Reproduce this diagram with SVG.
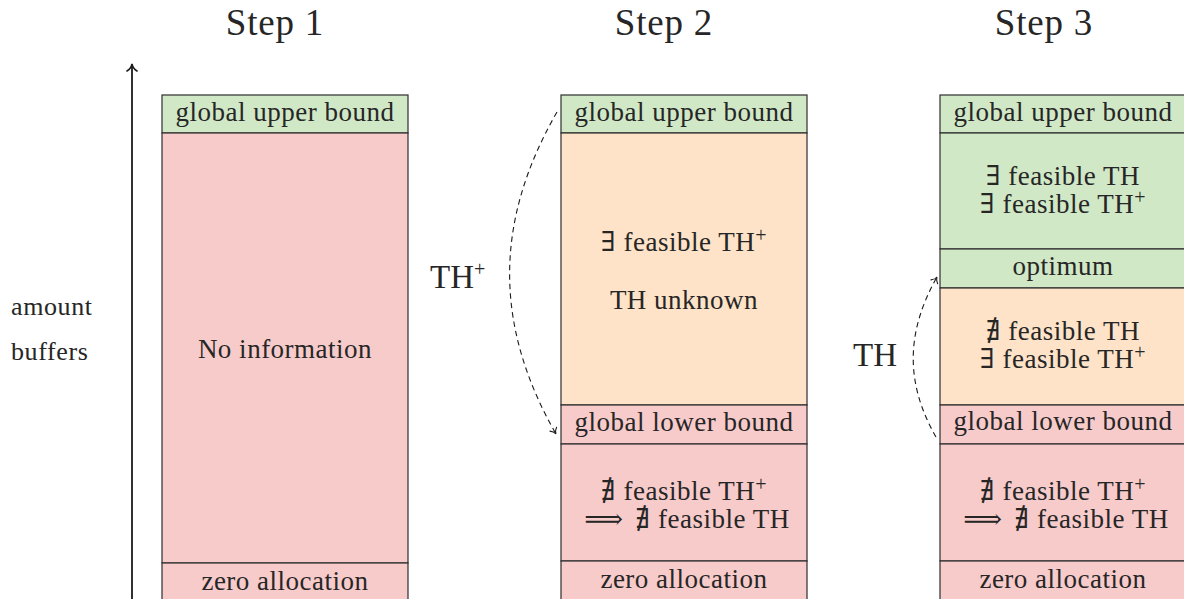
<svg xmlns="http://www.w3.org/2000/svg" width="1184" height="599" viewBox="0 0 1184 599">
  <style>
    text { font-family: "Liberation Serif", "DejaVu Serif", serif; fill: #262626; }
    .lbl { font-size: 27px; letter-spacing: 0.5px; text-anchor: middle; }
    .title { font-size: 37px; letter-spacing: 0.8px; text-anchor: middle; }
    .axis-lbl { font-size: 26px; letter-spacing: 0.6px; }
    .edge-lbl { font-size: 33px; }
    .sup { font-size: 20px; }
    .cell { stroke: #2e2e2e; stroke-width: 1.2; }
    .green { fill: #d1e8c7; }
    .orange { fill: #fee3c8; }
    .pink { fill: #f8cbcb; }
    .dash { fill: none; stroke: #1a1a1a; stroke-width: 1.1; stroke-dasharray: 5.5 4; }
  </style>
  <defs>
    <marker id="to" markerUnits="userSpaceOnUse" markerWidth="14" markerHeight="14" refX="0" refY="0" viewBox="-7 -7 14 14" orient="auto" overflow="visible">
      <path d="M-5.5,-3.8 C-3.8,-1.3 -1.6,-0.3 0,0 C-1.6,0.3 -3.8,1.3 -5.5,3.8" fill="none" stroke="#1a1a1a" stroke-width="1.1" stroke-dasharray="none" stroke-linecap="round"/>
    </marker>
    <marker id="axis-to" markerUnits="userSpaceOnUse" markerWidth="16" markerHeight="16" refX="0" refY="0" viewBox="-8 -8 16 16" orient="auto" overflow="visible">
      <path d="M-7,-5 C-5,-1.8 -2.2,-0.4 0,0 C-2.2,0.4 -5,1.8 -7,5" fill="none" stroke="#1a1a1a" stroke-width="1.6" stroke-linecap="round"/>
    </marker>
  </defs>

  <!-- column titles -->
  <g id="titles">
    <text class="title" x="275" y="35">Step 1</text>
    <text class="title" x="664" y="35">Step 2</text>
    <text class="title" x="1044" y="35">Step 3</text>
  </g>

  <!-- vertical axis -->
  <g id="axis">
    <line x1="132" y1="605" x2="132" y2="64" stroke="#1a1a1a" stroke-width="1.8" marker-end="url(#axis-to)"/>
    <text class="axis-lbl" x="11" y="315">amount</text>
    <text class="axis-lbl" x="11" y="360">buffers</text>
  </g>

  <!-- Step 1 column -->
  <g id="step1">
    <g id="s1-upper">
      <rect class="cell green" x="162" y="95" width="246" height="38"/>
      <text class="lbl" x="285" y="121">global upper bound</text>
    </g>
    <g id="s1-noinfo">
      <rect class="cell pink" x="162" y="133" width="246" height="430"/>
      <text class="lbl" x="285" y="358">No information</text>
    </g>
    <g id="s1-zero">
      <rect class="cell pink" x="162" y="563" width="246" height="50"/>
      <text class="lbl" x="285" y="590">zero allocation</text>
    </g>
  </g>

  <!-- Step 2 column -->
  <g id="step2">
    <g id="s2-upper">
      <rect class="cell green" x="561" y="95" width="246" height="38"/>
      <text class="lbl" x="684" y="121">global upper bound</text>
    </g>
    <g id="s2-unknown">
      <rect class="cell orange" x="561" y="133" width="246" height="272"/>
      <text class="lbl" x="684" y="251">∃ feasible TH<tspan class="sup" dy="-9">+</tspan></text>
      <text class="lbl" x="684" y="309">TH unknown</text>
    </g>
    <g id="s2-lower">
      <rect class="cell pink" x="561" y="405" width="246" height="39"/>
      <text class="lbl" x="684" y="431">global lower bound</text>
    </g>
    <g id="s2-infeasible">
      <rect class="cell pink" x="561" y="444" width="246" height="117"/>
      <text class="lbl" x="684" y="500">∄ feasible TH<tspan class="sup" dy="-9">+</tspan><tspan x="687" dy="37">⟹</tspan><tspan dx="12">∄ feasible TH</tspan></text>
    </g>
    <g id="s2-zero">
      <rect class="cell pink" x="561" y="561" width="246" height="50"/>
      <text class="lbl" x="684" y="588">zero allocation</text>
    </g>
  </g>

  <!-- Step 3 column -->
  <g id="step3">
    <g id="s3-upper">
      <rect class="cell green" x="940" y="95" width="247" height="38"/>
      <text class="lbl" x="1063" y="121">global upper bound</text>
    </g>
    <g id="s3-feasible">
      <rect class="cell green" x="940" y="133" width="247" height="116"/>
      <text class="lbl" x="1063" y="185">∃ feasible TH<tspan x="1063" dy="28">∃ feasible TH</tspan><tspan class="sup" dy="-9">+</tspan></text>
    </g>
    <g id="s3-optimum">
      <rect class="cell green" x="940" y="249" width="247" height="39"/>
      <text class="lbl" x="1063" y="275">optimum</text>
    </g>
    <g id="s3-between">
      <rect class="cell orange" x="940" y="288" width="247" height="117"/>
      <text class="lbl" x="1063" y="340">∄ feasible TH<tspan x="1063" dy="28">∃ feasible TH</tspan><tspan class="sup" dy="-9">+</tspan></text>
    </g>
    <g id="s3-lower">
      <rect class="cell pink" x="940" y="405" width="247" height="39"/>
      <text class="lbl" x="1063" y="430">global lower bound</text>
    </g>
    <g id="s3-infeasible">
      <rect class="cell pink" x="940" y="444" width="247" height="117"/>
      <text class="lbl" x="1063" y="500">∄ feasible TH<tspan class="sup" dy="-9">+</tspan><tspan x="1066" dy="37">⟹</tspan><tspan dx="12">∄ feasible TH</tspan></text>
    </g>
    <g id="s3-zero">
      <rect class="cell pink" x="940" y="561" width="247" height="50"/>
      <text class="lbl" x="1063" y="588">zero allocation</text>
    </g>
  </g>

  <!-- search steps between bounds -->
  <g id="connectors">
    <path class="dash" d="M557,112 C494,221.5 494,325.5 556,434" marker-end="url(#to)"/>
    <text class="edge-lbl" x="430" y="288">TH<tspan class="sup" font-size="25" dy="-12">+</tspan></text>
    <path class="dash" d="M936,437 C904.5,382 906.5,331 937,277" marker-end="url(#to)"/>
    <text class="edge-lbl" x="853" y="366">TH</text>
  </g>
</svg>
